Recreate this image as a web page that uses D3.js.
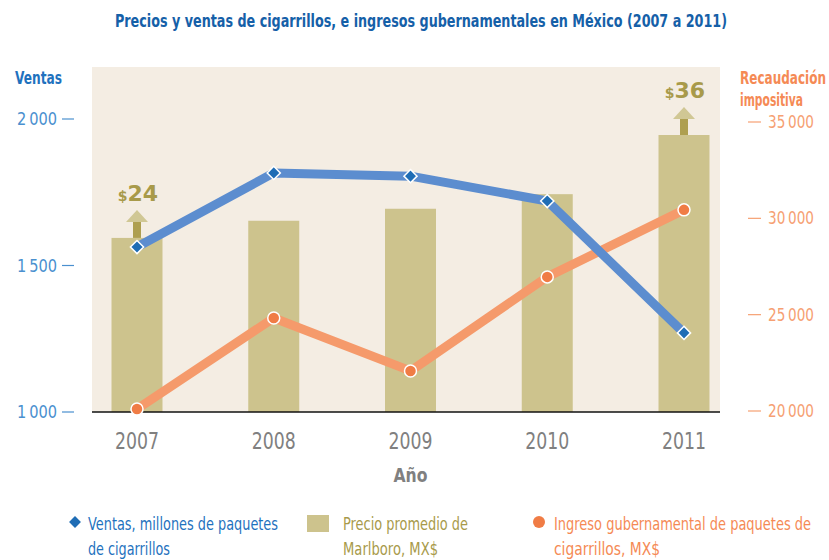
<!DOCTYPE html>
<html>
<head>
<meta charset="utf-8">
<script src="https://cdn.jsdelivr.net/npm/d3@7"></script>
<style>
  body { margin: 0; background: #fff; }
  text { font-family: "DejaVu Sans", sans-serif; }
</style>
</head>
<body>
<svg id="chart" width="829" height="560"></svg>
<script>
// data
var years = ["2007", "2008", "2009", "2010", "2011"];
var ventas = [1563, 1816, 1805, 1720, 1270];          // millones de paquetes
var precio = [24, 26, 27.4, 29.1, 36];                // MX$
var ingreso = [20100, 24830, 22080, 26960, 30440];    // recaudación
var leftTicks = [1000, 1500, 2000];
var rightTicks = [20000, 25000, 30000, 35000];

var svg = d3.select("svg#chart");
var plotL = 92, plotR = 720, plotT = 67, plotB = 412;

var fmt = function(v) { return d3.format(",")(v).replace(/,/g, "\u2009"); };

// condensed look: squeeze text to the width it has in the original
function label(x0, y0, str, size, color, len, bold) {
  var t = svg.append("text")
    .attr("x", x0).attr("y", y0)
    .style("font-size", size + "px").style("fill", color)
    .text(str);
  if (bold) t.style("font-weight", "bold");
  if (len) t.attr("textLength", len).attr("lengthAdjust", "spacingAndGlyphs");
  return t;
}

var x = d3.scalePoint().domain(years).range([plotL + 45, plotR - 36]);
var yL = d3.scaleLinear().domain([1000, 2000]).range([412, 119]);
var yR = d3.scaleLinear().domain([20000, 35000]).range([411, 122]);
var yP = d3.scaleLinear().domain([3.7, 36]).range([412, 135]);

// title
label(115, 27, "Precios y ventas de cigarrillos, e ingresos gubernamentales en México (2007 a 2011)", 17, "#1560a8", 612, true);

// plot background
svg.append("rect")
  .attr("x", plotL).attr("y", plotT)
  .attr("width", plotR - plotL).attr("height", plotB - plotT)
  .attr("fill", "#f4ede3");

// bars
var barW = 51;
svg.append("g").selectAll("rect")
  .data(precio).enter().append("rect")
  .attr("x", function(d, i) { return x(years[i]) - barW / 2; })
  .attr("y", function(d) { return yP(d); })
  .attr("width", barW)
  .attr("height", function(d) { return plotB - yP(d); })
  .attr("fill", "#cdc38d");

// arrows + price labels on first and last bar
[0, 4].forEach(function(i) {
  var cx = x(years[i]), top = yP(precio[i]);
  svg.append("rect")
    .attr("x", cx - 4).attr("y", top - 20)
    .attr("width", 8).attr("height", 20)
    .attr("fill", "#ae9f50");
  svg.append("path")
    .attr("d", "M" + (cx - 11) + "," + (top - 16) + "L" + cx + "," + (top - 28) + "L" + (cx + 11) + "," + (top - 16) + "Z")
    .attr("fill", "#d0c794");
  var t = svg.append("text")
    .attr("x", cx + 1).attr("y", top - 37)
    .attr("text-anchor", "middle")
    .style("fill", "#a89a4a").style("font-weight", "bold");
  t.append("tspan").style("font-size", "14px").text("$");
  t.append("tspan").style("font-size", "22px").text(precio[i]);
});

// baseline
svg.append("line")
  .attr("x1", plotL).attr("x2", plotR)
  .attr("y1", plotB).attr("y2", plotB)
  .attr("stroke", "#111").attr("stroke-width", 1.5);

// ingreso line
var lineR = d3.line()
  .x(function(d, i) { return x(years[i]); })
  .y(function(d) { return yR(d); });
svg.append("path").datum(ingreso)
  .attr("d", lineR)
  .attr("fill", "none").attr("stroke", "#f59a6b").attr("stroke-width", 9)
  .attr("stroke-linejoin", "round");
svg.append("g").selectAll("circle")
  .data(ingreso).enter().append("circle")
  .attr("cx", function(d, i) { return x(years[i]); })
  .attr("cy", function(d) { return yR(d); })
  .attr("r", 6)
  .attr("fill", "#f07c45").attr("stroke", "#fff").attr("stroke-width", 1.5);

// ventas line
var lineL = d3.line()
  .x(function(d, i) { return x(years[i]); })
  .y(function(d) { return yL(d); });
svg.append("path").datum(ventas)
  .attr("d", lineL)
  .attr("fill", "none").attr("stroke", "#5c8dcf").attr("stroke-width", 9)
  .attr("stroke-linejoin", "round");
svg.append("g").selectAll("path")
  .data(ventas).enter().append("path")
  .attr("d", d3.symbol().type(d3.symbolDiamond2).size(110))
  .attr("transform", function(d, i) { return "translate(" + x(years[i]) + "," + yL(d) + ")"; })
  .attr("fill", "#1f6db5").attr("stroke", "#fff").attr("stroke-width", 1.5);

// left axis
var gL = svg.append("g");
gL.selectAll("line").data(leftTicks).enter().append("line")
  .attr("x1", 62).attr("x2", 74)
  .attr("y1", function(d) { return yL(d); }).attr("y2", function(d) { return yL(d); })
  .attr("stroke", "#4a90cf").attr("stroke-width", 1.2);
gL.selectAll("text").data(leftTicks).enter().append("text")
  .attr("x", 57).attr("y", function(d) { return yL(d) + 6; })
  .attr("text-anchor", "end")
  .style("font-size", "17px").style("fill", "#4a90cf")
  .attr("textLength", 40)
  .attr("lengthAdjust", "spacingAndGlyphs")
  .text(fmt);
label(15, 84, "Ventas", 17, "#1f72be", 47, true);

// right axis
var gR = svg.append("g");
gR.selectAll("line").data(rightTicks).enter().append("line")
  .attr("x1", 748).attr("x2", 761)
  .attr("y1", function(d) { return yR(d); }).attr("y2", function(d) { return yR(d); })
  .attr("stroke", "#f6a072").attr("stroke-width", 1.2);
gR.selectAll("text").data(rightTicks).enter().append("text")
  .attr("x", 768).attr("y", function(d) { return yR(d) + 6; })
  .style("font-size", "17px").style("fill", "#f6a072")
  .attr("textLength", 46).attr("lengthAdjust", "spacingAndGlyphs")
  .text(fmt);
label(740, 84, "Recaudación", 17, "#f58a55", 86, true);
label(740, 106, "impositiva", 17, "#f58a55", 63, true);

// x labels
svg.append("g").selectAll("text")
  .data(years).enter().append("text")
  .attr("x", function(d) { return x(d); }).attr("y", 449)
  .attr("text-anchor", "middle")
  .style("font-size", "23px").style("fill", "#808080")
  .attr("textLength", 44).attr("lengthAdjust", "spacingAndGlyphs")
  .text(function(d) { return d; });
svg.append("text")
  .attr("x", x("2009")).attr("y", 482)
  .attr("text-anchor", "middle")
  .style("font-size", "19px").style("font-weight", "bold").style("fill", "#808080")
  .attr("textLength", 34).attr("lengthAdjust", "spacingAndGlyphs")
  .text("Año");

// legend
svg.append("path")
  .attr("d", d3.symbol().type(d3.symbolDiamond2).size(90))
  .attr("transform", "translate(75,522)")
  .attr("fill", "#1f6db5");
label(88, 530, "Ventas, millones de paquetes", 17, "#1f72be", 190);
label(88, 555, "de cigarrillos", 17, "#1f72be", 82);
svg.append("rect").attr("x", 307).attr("y", 515).attr("width", 22).attr("height", 17)
  .attr("fill", "#cdc38d");
label(343, 530, "Precio promedio de", 17, "#a89a4a", 125);
label(343, 555, "Marlboro, MX$", 17, "#a89a4a", 95);
svg.append("circle").attr("cx", 539).attr("cy", 522).attr("r", 6)
  .attr("fill", "#f07c45");
label(554, 530, "Ingreso gubernamental de paquetes de", 17, "#f58a55", 257);
label(554, 555, "cigarrillos, MX$", 17, "#f58a55", 106);
</script>
</body>
</html>
